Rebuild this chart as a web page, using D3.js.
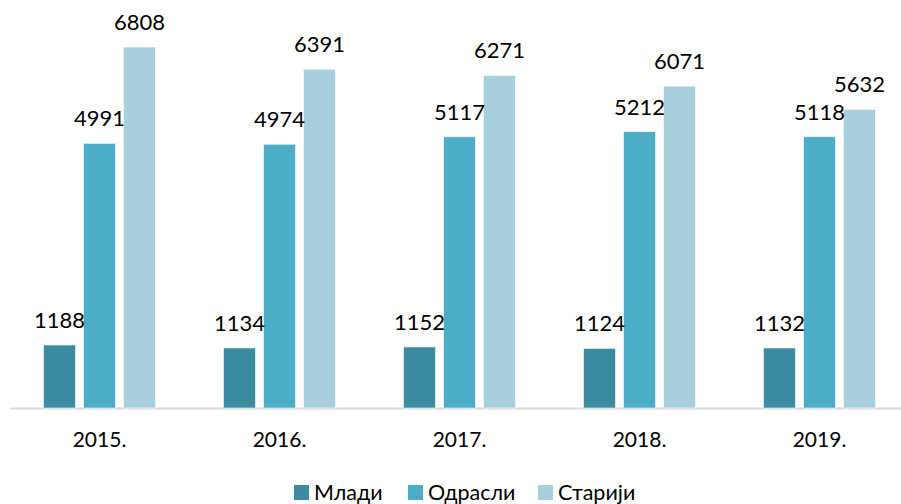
<!DOCTYPE html>
<html>
<head>
<meta charset="utf-8">
<script src="https://cdn.jsdelivr.net/npm/d3@7"></script>
<style>
  body { margin: 0; background: #fff; }
  text { font-family: Lato, "Open Sans", sans-serif; fill: #000; }
</style>
</head>
<body>
<svg id="chart"></svg>
<script>
var width = 901;
var height = 504;

var years = ["2015.", "2016.", "2017.", "2018.", "2019."];
var series = ["Млади", "Одрасли", "Старији"];
var mladi = [1188, 1134, 1152, 1124, 1132];
var odrasli = [4991, 4974, 5117, 5212, 5118];
var stariji = [6808, 6391, 6271, 6071, 5632];
var colours = ["#3b8ba1", "#4badc6", "#a8cfde"];

var svg = d3.select("#chart").attr("width", width).attr("height", height);

var baseline = 408;
var scaleX = d3.scaleBand().domain(years).range([9.5, 909.5]);
var scaleY = d3.scaleLinear().domain([0, 7000]).range([baseline, baseline - 7000 / 18.86]);

var values = [mladi, odrasli, stariji];
var rows = [];
years.forEach(function(y, i) {
    series.forEach(function(s, j) {
        rows.push({year: y, series: s, value: values[j][i], idx: j});
    });
});

var barW = 32, gap = 8;
function barX(d) {
    return scaleX(d.year) + scaleX.bandwidth() / 2 + (d.idx - 1) * (barW + gap) - barW / 2;
}

// axis line + year labels
var axisX = d3.axisBottom(scaleX).tickSize(0).tickPadding(0);
var gx = svg.append("g")
    .attr("transform", "translate(0," + baseline + ")")
    .call(axisX);
gx.select(".domain").attr("stroke", "#d9d9d9").attr("stroke-width", 2);
gx.selectAll("text")
    .attr("y", 39)
    .attr("dy", 0)
    .style("font-size", "21px")
    .style("font-family", "Lato, 'Open Sans', sans-serif")
    .attr("fill", "#000");

svg.selectAll("rect.bar").data(rows).enter().append("rect")
    .attr("class", "bar")
    .attr("x", barX)
    .attr("y", function(d) { return scaleY(d.value); })
    .attr("width", barW)
    .attr("height", function(d) { return baseline - scaleY(d.value); })
    .attr("fill", function(d) { return colours[d.idx]; })
    .attr("stroke", "#ffffff")
    .attr("stroke-opacity", 0.6)
    .attr("stroke-width", 1);

svg.selectAll("text.label").data(rows).enter().append("text")
    .attr("class", "label")
    .attr("x", function(d) { return barX(d) + barW / 2; })
    .attr("y", function(d) { return scaleY(d.value) - 17; })
    .attr("text-anchor", "middle")
    .style("font-size", "22px")
    .text(function(d) { return d.value; });

// legend
var legendX = [294, 408, 538];
var legend = svg.selectAll("g.legend").data(series).enter().append("g")
    .attr("class", "legend")
    .attr("transform", function(d, i) { return "translate(" + legendX[i] + ",485)"; });
legend.append("rect")
    .attr("width", 15)
    .attr("height", 15)
    .attr("fill", function(d, i) { return colours[i]; });
legend.append("text")
    .attr("x", 20)
    .attr("y", 15)
    .style("font-size", "21.5px")
    .text(function(d) { return d; });
</script>
</body>
</html>
